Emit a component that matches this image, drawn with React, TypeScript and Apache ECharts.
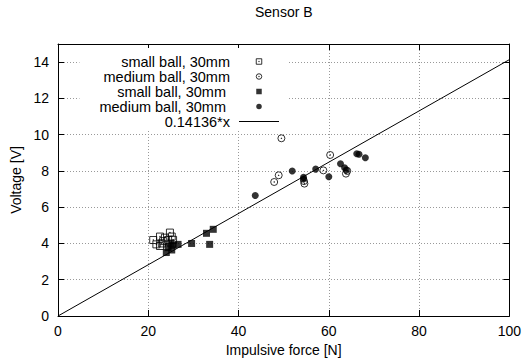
import React, { useEffect, useRef } from "react";
import * as echarts from "echarts";

const title = "Sensor B";
const xName = "Impulsive force [N]";
const yName = "Voltage [V]";
const seriesNames = [
  "small ball, 30mm",
  "medium ball, 30mm",
  "small ball, 30mm ",
  "medium ball, 30mm ",
  "0.14136*x",
];
const slope = 0.14136;

// open squares
const smallOpen: number[][] = [
  [21.1, 4.19], [22.6, 4.38], [24.8, 4.6], [25.2, 4.38], [21.8, 3.95],
  [23.3, 4.13], [24.4, 4.19], [22.6, 3.86], [23.7, 4.32], [25.5, 4.2], [23.0, 4.0],
];
// open circles
const mediumOpen: number[][] = [
  [47.9, 7.39], [48.9, 7.76], [49.5, 9.8], [54.5, 7.44], [54.6, 7.3],
  [58.8, 8.03], [60.3, 8.88], [64.1, 8.0], [63.8, 7.85],
];
// filled squares
const smallFilled: number[][] = [
  [24.0, 3.5], [24.4, 3.77], [25.2, 3.64], [25.5, 3.9], [26.6, 3.95],
  [29.6, 4.0], [32.9, 4.56], [34.4, 4.78], [33.6, 3.95], [25.0, 4.0],
];
// filled circles
const mediumFilled: number[][] = [
  [43.7, 6.65], [51.9, 8.0], [54.4, 7.65], [54.4, 7.55], [57.1, 8.1],
  [60.0, 7.68], [62.6, 8.4], [63.5, 8.18], [66.2, 8.95], [66.7, 8.92],
  [68.1, 8.73], [63.9, 8.05],
];
const xRange = [0, 100];
const yRange = [0, 15];
const fitLine: number[][] = [
  [xRange[0], slope * xRange[0]],
  [xRange[1], slope * xRange[1]],
];

const FONT = "Liberation Sans";
const openSquare = "path://M0,0H10V10H0Z M4.6,4.6H5.4V5.4H4.6Z";
const openCircle = "path://M5,0A5,5 0 1,1 5,10A5,5 0 1,1 5,0Z M4.6,4.6H5.4V5.4H4.6Z";
const filledSquare = "path://M0,0H10V10H0Z";
const filledCircle = "path://M5,0A5,5 0 1,1 5,10A5,5 0 1,1 5,0Z";
const lineIcon = "path://M0,0H40V1H0Z";

export default function App() {
  const ref = useRef<HTMLDivElement>(null);
  useEffect(() => {
    if (!ref.current) return;
    const chart = echarts.init(ref.current, undefined, { renderer: "svg" });
    const gridLine = { show: true, lineStyle: { color: "#999", type: [1, 2] as any, width: 1 } };
    const baseX = { type: "value" as const, min: xRange[0], max: xRange[1], interval: 20 };
    const baseY = { type: "value" as const, min: yRange[0], max: yRange[1], interval: 2 };
    const axisLine = { show: true, onZero: false, lineStyle: { color: "#000", width: 1 } };
    const axisTick = { show: true, inside: true, length: 6, lineStyle: { color: "#000" } };
    const hollow = { color: "rgba(255,255,255,0)", borderColor: "#000", borderWidth: 1 };
    const solid = { color: "#000", borderWidth: 0 };
    chart.setOption({
      animation: false,
      backgroundColor: "#fff",
      textStyle: { fontFamily: FONT },
      title: {
        text: title,
        left: 255,
        top: 5,
        padding: 0,
        textStyle: { fontSize: 14, fontWeight: "normal", color: "#000", fontFamily: FONT },
      },
      grid: { left: 58, right: 14, top: 44, bottom: 45, show: false },
      legend: {
        orient: "vertical",
        align: "right",
        right: 237,
        top: 48,
        padding: [6, 8, 0, 20],
        itemGap: 0,
        itemWidth: 40,
        itemHeight: 5.5,
        backgroundColor: "#fff",
        textStyle: {
          fontSize: 14.5,
          lineHeight: 14.5,
          color: "#000",
          fontFamily: FONT,
          padding: [0, 4, 0, 0],
        },
        data: [
          { name: seriesNames[0], icon: openSquare, itemStyle: hollow },
          { name: seriesNames[1], icon: openCircle, itemStyle: hollow },
          { name: seriesNames[2], icon: filledSquare, itemStyle: solid },
          { name: seriesNames[3], icon: filledCircle, itemStyle: solid },
          { name: seriesNames[4], icon: lineIcon, itemStyle: solid },
        ],
      },
      xAxis: [
        {
          ...baseX,
          position: "bottom",
          name: xName,
          nameLocation: "middle",
          nameGap: 27,
          nameTextStyle: { fontSize: 14, color: "#000", fontFamily: FONT },
          axisLine,
          axisTick,
          axisLabel: { fontSize: 14, color: "#000", margin: 8, fontFamily: FONT },
          splitLine: gridLine,
        },
        {
          ...baseX,
          position: "top",
          axisLine,
          axisTick,
          axisLabel: { show: false },
          splitLine: { show: false },
        },
      ],
      yAxis: [
        {
          ...baseY,
          position: "left",
          name: yName,
          nameLocation: "middle",
          nameGap: 30,
          nameRotate: 90,
          nameTextStyle: { fontSize: 14, color: "#000", fontFamily: FONT },
          axisLine,
          axisTick,
          axisLabel: { fontSize: 14, color: "#000", margin: 9, showMaxLabel: false, fontFamily: FONT },
          splitLine: gridLine,
        },
        {
          ...baseY,
          position: "right",
          axisLine,
          axisTick,
          axisLabel: { show: false },
          splitLine: { show: false },
        },
      ],
      series: [
        {
          name: seriesNames[0],
          type: "scatter",
          data: smallOpen,
          symbol: openSquare,
          symbolSize: 7,
          itemStyle: hollow,
        },
        {
          name: seriesNames[1],
          type: "scatter",
          data: mediumOpen,
          symbol: openCircle,
          symbolSize: 7,
          itemStyle: hollow,
        },
        {
          name: seriesNames[2],
          type: "scatter",
          data: smallFilled,
          symbol: filledSquare,
          symbolSize: 7,
          itemStyle: solid,
        },
        {
          name: seriesNames[3],
          type: "scatter",
          data: mediumFilled,
          symbol: "circle",
          symbolSize: 7,
          itemStyle: solid,
        },
        {
          name: seriesNames[4],
          type: "line",
          data: fitLine,
          symbol: "none",
          showSymbol: false,
          itemStyle: { color: "#000" },
          lineStyle: { color: "#000", width: 1 },
          z: 1,
        },
      ],
    });
    return () => chart.dispose();
  }, []);
  return (
    <div
      ref={ref}
      style={{ position: "absolute", left: 0, top: 0, width: 524, height: 362 }}
    />
  );
}
